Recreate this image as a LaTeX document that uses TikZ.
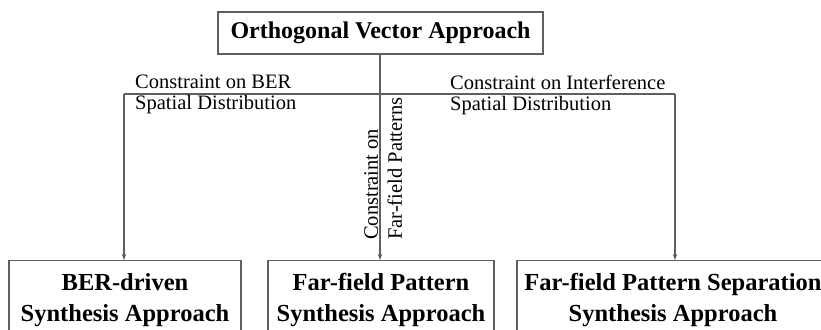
\documentclass[tikz,border=0pt]{standalone}
\usepackage{fontspec}
\setmainfont{Liberation Serif}
\usetikzlibrary{arrows.meta}
\definecolor{linegray}{RGB}{95,95,95}
\begin{document}
\begin{tikzpicture}[x=1pt,y=-1pt,
  box/.style={draw=linegray,line width=1.3pt,inner xsep=0pt,align=center},
  topbox/.style={box,font=\fontsize{24}{28}\selectfont\bfseries,minimum width=325pt,minimum height=42pt},
  leafbox/.style={box,font=\fontsize{24.5}{31}\selectfont\bfseries,inner ysep=12.75pt,anchor=north},
  link/.style={draw=linegray,line width=1.3pt},
  arr/.style={link,-{Stealth[length=6pt,width=4.5pt]}},
  lbl/.style={font=\fontsize{20.5}{21.5}\selectfont,inner sep=0pt,align=left}
]
\useasboundingbox (0,0) rectangle (821,329);

% approaches
\node[topbox] (ova) at (380.5,33) {Orthogonal Vector Approach};
\node[leafbox,minimum width=232pt] (ber) at (125,260) {BER-driven\\Synthesis Approach};
\node[leafbox,minimum width=226pt] (ffp) at (381,260) {Far-field Pattern\\Synthesis Approach};
\node[leafbox,minimum width=312pt] (ffs) at (673,260) {Far-field Pattern Separation\\Synthesis Approach};

% branch junctions
\coordinate (jl) at (124,94);
\coordinate (jr) at (675,94);

\draw[arr] (ova.south -| 380,0) -- (380,0 |- ffp.north);
\draw[link] (jl) -- (jr);
\draw[arr] (jl) -- (jl |- ber.north);
\draw[arr] (jr) -- (jr |- ffs.north);

% constraint labels
\node[lbl,anchor=north west] (cber) at (135,74.5) {Constraint on BER\\Spatial Distribution};
\node[lbl,anchor=north west] (cint) at (450,74.5) {Constraint on Interference\\Spatial Distribution};
\node[lbl,font=\fontsize{20.5}{24}\selectfont,rotate=90,anchor=north west] (cfar) at (364,240) {Constraint on\\Far-field Patterns};
\end{tikzpicture}
\end{document}
